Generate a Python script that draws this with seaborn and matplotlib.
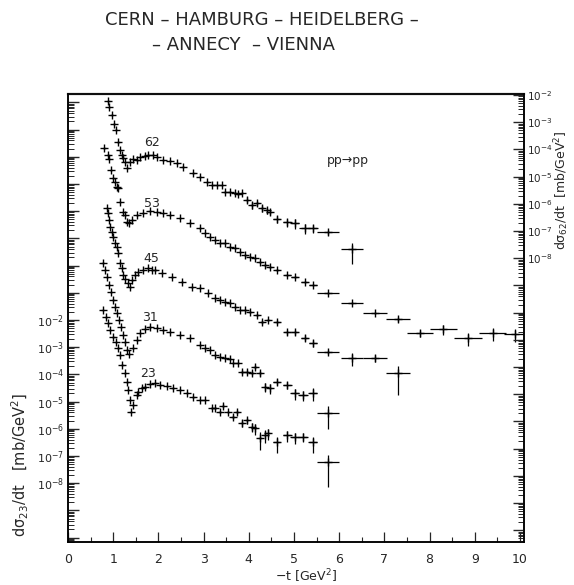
import numpy as np
import pandas as pd
import matplotlib
matplotlib.use("Agg")
import matplotlib.pyplot as plt
from matplotlib.ticker import LogLocator, FuncFormatter, MultipleLocator, NullFormatter
import seaborn as sns

# pp -> pp elastic differential cross sections at ISR energies (sqrt(s) in GeV).
# t_XX: -t [GeV^2]; lg_XX: log10(dsigma/dt [mb/GeV^2]);
# rel_XX: relative error; dt_XX: half width of the t bin.
t_62 = [0.89, 0.91, 0.97, 1.02, 1.06, 1.11, 1.15, 1.20, 1.22, 1.26, 1.31,
        1.37, 1.44, 1.53, 1.59, 1.70, 1.77, 1.88, 1.97, 2.10, 2.26, 2.41, 2.54,
        2.77, 2.92, 3.08, 3.19, 3.30, 3.41, 3.47, 3.58, 3.70, 3.76, 3.85, 3.96,
        4.07, 4.18, 4.29, 4.40, 4.47, 4.62, 4.85, 5.02, 5.24, 5.42, 5.75, 6.28]
lg_62 = [-1.95, -2.17, -2.46, -2.79, -3.01, -3.46, -3.75, -3.93, -4.04, -4.19, -4.41,
         -4.19, -4.08, -4.12, -4.01, -3.97, -3.93, -3.93, -4.01, -4.12, -4.15, -4.23, -4.37,
         -4.60, -4.74, -4.93, -5.04, -5.04, -5.04, -5.29, -5.29, -5.33, -5.37, -5.33, -5.59,
         -5.77, -5.70, -5.88, -5.96, -6.03, -6.29, -6.40, -6.43, -6.62, -6.62, -6.76, -7.39]
rel_62 = [0.04, 0.04, 0.04, 0.04, 0.04, 0.04, 0.04, 0.04, 0.04, 0.04, 0.04,
          0.04, 0.04, 0.04, 0.04, 0.04, 0.04, 0.04, 0.04, 0.04, 0.04, 0.04, 0.04,
          0.04, 0.04, 0.04, 0.04, 0.04, 0.04, 0.10, 0.10, 0.10, 0.10, 0.10, 0.25,
          0.30, 0.20, 0.30, 0.25, 0.20, 0.30, 0.35, 0.40, 0.40, 0.35, 0.20, 0.72]
dt_62 = [0.03, 0.03, 0.03, 0.03, 0.03, 0.03, 0.03, 0.03, 0.03, 0.03, 0.03,
         0.03, 0.03, 0.03, 0.03, 0.03, 0.03, 0.03, 0.03, 0.03, 0.03, 0.03, 0.03,
         0.03, 0.03, 0.03, 0.03, 0.03, 0.03, 0.03, 0.03, 0.03, 0.03, 0.03, 0.04,
         0.04, 0.04, 0.05, 0.05, 0.05, 0.08, 0.10, 0.10, 0.12, 0.12, 0.24, 0.24]

t_53 = [0.80, 0.89, 0.91, 0.95, 1.00, 1.04, 1.08, 1.11, 1.15, 1.22, 1.26, 1.31, 1.35,
        1.42, 1.53, 1.66, 1.81, 1.97, 2.10, 2.26, 2.48, 2.70, 2.92, 3.03, 3.14, 3.25,
        3.36, 3.47, 3.58, 3.70, 3.81, 3.92, 4.03, 4.14, 4.25, 4.36, 4.47, 4.62, 4.85,
        5.02, 5.24, 5.42, 5.75, 6.28, 6.79, 7.30, 7.79, 8.30, 8.85, 9.40, 9.89]
lg_53 = [-1.68, -1.93, -2.08, -2.49, -2.78, -2.93, -3.11, -3.15, -3.66, -4.03, -4.14, -4.40, -4.43,
         -4.32, -4.14, -4.07, -3.99, -4.03, -4.07, -4.14, -4.25, -4.43, -4.62, -4.80, -4.95, -5.06,
         -5.17, -5.17, -5.32, -5.35, -5.50, -5.61, -5.68, -5.72, -5.87, -5.98, -6.05, -6.16, -6.35,
         -6.42, -6.60, -6.71, -7.01, -7.37, -7.74, -7.96, -8.48, -8.33, -8.66, -8.48, -8.51]
rel_53 = [0.04, 0.04, 0.04, 0.04, 0.04, 0.04, 0.04, 0.04, 0.04, 0.04, 0.04, 0.04, 0.04,
          0.04, 0.04, 0.04, 0.04, 0.04, 0.04, 0.04, 0.04, 0.04, 0.04, 0.04, 0.04, 0.04,
          0.04, 0.04, 0.04, 0.04, 0.04, 0.04, 0.04, 0.04, 0.04, 0.04, 0.05, 0.05, 0.06,
          0.06, 0.08, 0.08, 0.08, 0.10, 0.12, 0.20, 0.30, 0.40, 0.50, 0.50, 0.50]
dt_53 = [0.03, 0.03, 0.03, 0.03, 0.03, 0.03, 0.03, 0.03, 0.03, 0.03, 0.03, 0.03, 0.03,
         0.03, 0.03, 0.03, 0.03, 0.03, 0.03, 0.03, 0.03, 0.03, 0.03, 0.03, 0.03, 0.03,
         0.03, 0.03, 0.03, 0.03, 0.03, 0.03, 0.03, 0.03, 0.04, 0.04, 0.04, 0.05, 0.08,
         0.08, 0.08, 0.08, 0.24, 0.24, 0.26, 0.26, 0.28, 0.30, 0.30, 0.30, 0.25]

t_45 = [0.86, 0.89, 0.91, 0.93, 0.97, 1.00, 1.04, 1.08, 1.11, 1.15, 1.20, 1.22, 1.26, 1.33, 1.37,
        1.42, 1.48, 1.55, 1.66, 1.77, 1.86, 1.93, 2.08, 2.30, 2.52, 2.74, 2.92, 3.10, 3.25,
        3.36, 3.47, 3.58, 3.70, 3.81, 3.92, 4.03, 4.18, 4.29, 4.43, 4.62, 4.85, 5.02, 5.24,
        5.42, 5.75, 6.28, 6.79, 7.30]
lg_45 = [-1.88, -2.07, -2.32, -2.58, -2.76, -2.95, -3.17, -3.32, -3.54, -3.90, -4.09, -4.35, -4.49, -4.64, -4.79,
         -4.53, -4.35, -4.24, -4.16, -4.09, -4.16, -4.16, -4.27, -4.42, -4.60, -4.79, -4.82, -5.01, -5.19,
         -5.26, -5.34, -5.37, -5.52, -5.63, -5.63, -5.71, -5.82, -6.07, -6.00, -6.07, -6.44, -6.44, -6.66,
         -6.85, -7.18, -7.40, -7.40, -7.95]
rel_45 = [0.04, 0.04, 0.04, 0.04, 0.04, 0.04, 0.04, 0.04, 0.04, 0.04, 0.04, 0.04, 0.04, 0.04, 0.04,
          0.04, 0.04, 0.04, 0.04, 0.04, 0.04, 0.04, 0.04, 0.04, 0.04, 0.04, 0.04, 0.04, 0.04,
          0.04, 0.04, 0.04, 0.04, 0.04, 0.06, 0.06, 0.08, 0.15, 0.10, 0.15, 0.20, 0.20, 0.25,
          0.30, 0.15, 0.50, 0.30, 0.85]
dt_45 = [0.03, 0.03, 0.03, 0.03, 0.03, 0.03, 0.03, 0.03, 0.03, 0.03, 0.03, 0.03, 0.03, 0.03, 0.03,
         0.03, 0.03, 0.03, 0.03, 0.03, 0.03, 0.03, 0.03, 0.03, 0.03, 0.03, 0.03, 0.03, 0.03,
         0.03, 0.03, 0.03, 0.03, 0.03, 0.03, 0.04, 0.04, 0.05, 0.05, 0.06, 0.08, 0.08, 0.08,
         0.08, 0.24, 0.24, 0.26, 0.26]

t_31 = [0.77, 0.82, 0.86, 0.91, 0.95, 1.00, 1.04, 1.08, 1.13, 1.17, 1.22, 1.26, 1.31,
        1.35, 1.44, 1.53, 1.59, 1.70, 1.81, 1.97, 2.10, 2.26, 2.48, 2.70, 2.92, 3.03,
        3.14, 3.25, 3.36, 3.47, 3.58, 3.65, 3.76, 3.85, 3.96, 4.07, 4.14, 4.25, 4.36,
        4.47, 4.62, 4.85, 5.02, 5.20, 5.42, 5.75]
lg_31 = [-1.90, -2.16, -2.42, -2.71, -2.97, -3.26, -3.52, -3.74, -4.00, -4.26, -4.55, -4.81, -5.10,
         -5.25, -5.03, -4.74, -4.48, -4.33, -4.26, -4.29, -4.37, -4.44, -4.55, -4.66, -4.92, -5.03,
         -5.10, -5.29, -5.36, -5.40, -5.43, -5.58, -5.58, -5.91, -5.91, -5.95, -5.73, -5.95, -6.46,
         -6.50, -6.28, -6.39, -6.68, -6.76, -6.68, -7.42]
rel_31 = [0.04, 0.04, 0.04, 0.04, 0.04, 0.04, 0.04, 0.04, 0.04, 0.04, 0.04, 0.04, 0.04,
          0.04, 0.04, 0.04, 0.04, 0.04, 0.04, 0.04, 0.04, 0.04, 0.04, 0.04, 0.04, 0.04,
          0.04, 0.04, 0.04, 0.04, 0.04, 0.10, 0.10, 0.15, 0.15, 0.15, 0.15, 0.20, 0.35,
          0.40, 0.25, 0.30, 0.45, 0.40, 0.50, 0.75]
dt_31 = [0.03, 0.03, 0.03, 0.03, 0.03, 0.03, 0.03, 0.03, 0.03, 0.03, 0.03, 0.03, 0.03,
         0.03, 0.03, 0.03, 0.03, 0.03, 0.03, 0.03, 0.03, 0.03, 0.03, 0.03, 0.03, 0.03,
         0.03, 0.03, 0.03, 0.03, 0.03, 0.03, 0.03, 0.04, 0.04, 0.04, 0.04, 0.05, 0.05,
         0.05, 0.08, 0.10, 0.10, 0.10, 0.10, 0.24]

t_23 = [0.77, 0.84, 0.89, 0.93, 1.00, 1.06, 1.11, 1.15, 1.20, 1.26, 1.31, 1.33, 1.37, 1.39,
        1.44, 1.53, 1.55, 1.64, 1.70, 1.81, 1.93, 2.04, 2.19, 2.32, 2.48, 2.63, 2.77, 2.92,
        3.03, 3.19, 3.25, 3.36, 3.43, 3.54, 3.65, 3.74, 3.85, 3.96, 4.07, 4.14, 4.25, 4.36,
        4.43, 4.62, 4.85, 5.02, 5.20, 5.42, 5.75]
lg_23 = [-1.63, -1.89, -2.11, -2.37, -2.63, -2.81, -3.03, -3.29, -3.65, -3.95, -4.28, -4.57, -4.94, -5.38,
         -5.13, -4.76, -4.65, -4.50, -4.46, -4.35, -4.32, -4.39, -4.43, -4.50, -4.57, -4.68, -4.83, -4.94,
         -4.94, -5.24, -5.24, -5.38, -5.16, -5.38, -5.57, -5.38, -5.79, -5.68, -5.93, -5.97, -6.34, -6.23,
         -6.15, -6.49, -6.23, -6.30, -6.30, -6.49, -7.22]
rel_23 = [0.04, 0.04, 0.04, 0.04, 0.04, 0.04, 0.04, 0.04, 0.04, 0.04, 0.04, 0.04, 0.04, 0.04,
          0.04, 0.04, 0.04, 0.04, 0.04, 0.04, 0.04, 0.04, 0.04, 0.04, 0.04, 0.04, 0.04, 0.04,
          0.04, 0.10, 0.10, 0.10, 0.15, 0.10, 0.15, 0.15, 0.30, 0.25, 0.35, 0.45, 0.65, 0.50,
          0.45, 0.60, 0.45, 0.45, 0.35, 0.60, 0.88]
dt_23 = [0.03, 0.03, 0.03, 0.03, 0.03, 0.03, 0.03, 0.03, 0.03, 0.03, 0.03, 0.03, 0.03, 0.03,
         0.03, 0.03, 0.03, 0.03, 0.03, 0.03, 0.03, 0.03, 0.03, 0.03, 0.03, 0.03, 0.03, 0.03,
         0.03, 0.03, 0.03, 0.03, 0.03, 0.03, 0.04, 0.04, 0.04, 0.04, 0.05, 0.05, 0.05, 0.05,
         0.05, 0.08, 0.10, 0.10, 0.10, 0.10, 0.24]

energies = ["23", "31", "45", "53", "62"]
# each energy is shifted by a further factor 100 for display
shift = {"23": 1.0, "31": 1e2, "45": 1e4, "53": 1e6, "62": 1e8}
series = {
    "23": (t_23, lg_23, rel_23, dt_23),
    "31": (t_31, lg_31, rel_31, dt_31),
    "45": (t_45, lg_45, rel_45, dt_45),
    "53": (t_53, lg_53, rel_53, dt_53),
    "62": (t_62, lg_62, rel_62, dt_62),
}
# label position (t, shifted dsigma/dt) for each curve
label_pos = {"62": (1.86, 3.5e4), "53": (1.86, 2.0e2), "45": (1.84, 1.9),
             "31": (1.81, 1.2e-2), "23": (1.77, 1.1e-4)}

frames = []
for e in energies:
    t, lg, rel, dt = series[e]
    d = pd.DataFrame({"t": t, "dsdt": 10.0 ** np.array(lg), "rel": rel, "dt": dt})
    d["energy"] = e
    d["shown"] = d["dsdt"] * shift[e]
    frames.append(d)
df = pd.concat(frames, ignore_index=True)

sns.set_theme(style="white")
plt.rcParams["font.family"] = ["DejaVu Sans"]
plt.rcParams["mathtext.default"] = "regular"

fig = plt.figure(figsize=(5.74, 5.85), dpi=100)
ax = fig.add_axes([68 / 574, 43 / 585, 456 / 574, 448 / 585])

ax.errorbar(df["t"], df["shown"], xerr=df["dt"], yerr=df["shown"] * df["rel"],
            fmt="none", ecolor="black", elinewidth=0.9, capsize=0)
sns.scatterplot(data=df, x="t", y="shown", marker="+", s=26, color="black",
                linewidth=1.0, legend=False, ax=ax)

ax.set_yscale("log")
ax.set_xlim(0, 10.09)
ax.set_ylim(10 ** -10.16, 10 ** 6.31)


def decade_label(lo, hi):
    def fmt(v, pos):
        if v <= 0:
            return ""
        p = int(round(np.log10(v)))
        return f"$10^{{{p}}}$" if lo <= p <= hi else ""
    return FuncFormatter(fmt)


ax.yaxis.set_major_locator(LogLocator(base=10, numticks=60))
ax.yaxis.set_minor_locator(LogLocator(base=10, subs=np.arange(2, 10), numticks=600))
ax.yaxis.set_major_formatter(decade_label(-8, -2))
ax.yaxis.set_minor_formatter(NullFormatter())
ax.xaxis.set_major_locator(MultipleLocator(1))
ax.xaxis.set_minor_locator(MultipleLocator(0.5))
ax.tick_params(axis="y", which="major", direction="in", length=8, width=1.0,
               labelsize=8, pad=3, left=True, right=False)
ax.tick_params(axis="y", which="minor", direction="in", length=4, width=0.7, left=True)
ax.tick_params(axis="x", which="major", direction="in", length=7, width=0.9,
               labelsize=9, pad=8, bottom=True, top=False)
ax.tick_params(axis="x", which="minor", direction="in", length=3.5, width=0.8, bottom=True)
ax.set_xlabel("")
ax.set_ylabel("")

ax2 = ax.twinx()
ax2.set_yscale("log")
ax2.set_ylim(10 ** -18.43, 10 ** -1.96)
ax2.yaxis.set_major_locator(LogLocator(base=10, numticks=60))
ax2.yaxis.set_minor_locator(LogLocator(base=10, subs=np.arange(2, 10), numticks=600))
ax2.yaxis.set_major_formatter(decade_label(-8, -2))
ax2.yaxis.set_minor_formatter(NullFormatter())
ax2.tick_params(axis="y", which="major", direction="in", length=8, width=1.0,
                labelsize=7.5, pad=2, right=True)
ax2.tick_params(axis="y", which="minor", direction="in", length=4, width=0.7, right=True)

for a in (ax, ax2):
    for s in a.spines.values():
        s.set_color("black")
        s.set_linewidth(1.1)
ax.spines["top"].set_color("#444444")
ax.spines["top"].set_linewidth(1.6)

for e in energies:
    x, y = label_pos[e]
    ax.text(x, y, e, ha="center", va="center", fontsize=9)
ax.text(6.19, 7.6e3, "pp\u2192pp", ha="center", va="center", fontsize=9)

fig.text(20 / 574, 1 - 465 / 585,
         "d$\\sigma_{23}$/dt   [mb/GeV$^2$]", rotation=90, ha="center", va="center", fontsize=10.5)
fig.text(562 / 574, 1 - 190 / 585,
         "d$\\sigma_{62}$/dt  [mb/GeV$^2$]", rotation=90, ha="center", va="center", fontsize=9)
fig.text(306 / 574, 1 - 576 / 585, "\u2212t [GeV$^2$]", ha="center", va="center", fontsize=9)

fig.text(262 / 574, 1 - 20 / 585, "CERN \u2013 HAMBURG \u2013 HEIDELBERG \u2013",
         ha="center", va="center", fontsize=13)
fig.text(243 / 574, 1 - 45 / 585, "\u2013 ANNECY  \u2013 VIENNA",
         ha="center", va="center", fontsize=13)

fig.savefig("out.png", dpi=100, facecolor="white")
